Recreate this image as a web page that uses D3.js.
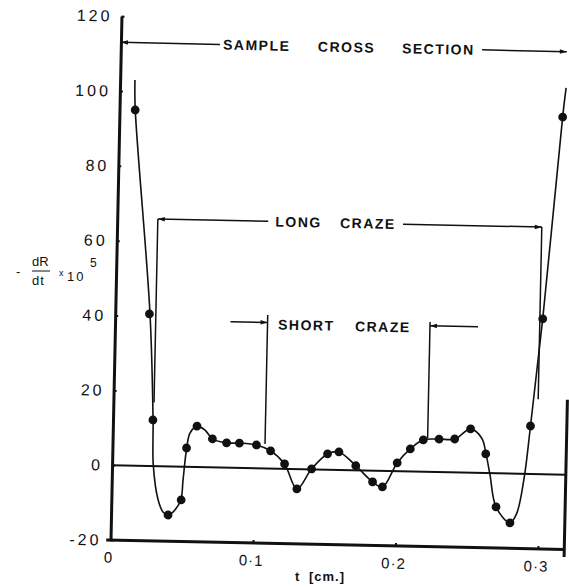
<!DOCTYPE html>
<html>
<head>
<meta charset="utf-8">
<script src="https://cdn.jsdelivr.net/npm/d3@7"></script>
<style>
  body { margin: 0; background: #fff; }
  svg { display: block; font-family: "Liberation Sans", Arial, sans-serif; }
</style>
</head>
<body>
<div id="chart"></div>
<script>
const WIDTH = 569;
const HEIGHT = 587;
const TILT = 1.2; // the scanned figure sits slightly rotated

// measured points: t (cm) and -dR/dt x 10^5
const pointT = [0.011, 0.024, 0.028, 0.040, 0.049, 0.052, 0.059, 0.070, 0.080, 0.089, 0.101, 0.111,
                0.121, 0.130, 0.140, 0.151, 0.159, 0.171, 0.183, 0.190, 0.200, 0.209, 0.218, 0.229,
                0.240, 0.251, 0.262, 0.270, 0.280, 0.293, 0.300, 0.311];
const pointV = [95, 40.6, 12.3, -13, -8.9, 5, 10.9, 7.6, 6.6, 6.6, 6.2, 4.7,
                1.3, -5.3, 0.1, 4.2, 4.8, 1.2, -3, -4.3, 2.2, 6, 8.5, 8.8,
                8.9, 11.7, 5.1, -9, -13.2, 12.8, 41.5, 95.5];

// hand drawn smooth curve through the points
const curveT = [0.0104, 0.011, 0.0244, 0.0281, 0.0289, 0.0328, 0.0364, 0.040, 0.0434, 0.0487, 0.050,
                0.0521, 0.0542, 0.059, 0.0647, 0.070, 0.080, 0.089, 0.101, 0.111, 0.121, 0.130, 0.140,
                0.151, 0.159, 0.171, 0.183, 0.190, 0.200, 0.209, 0.218, 0.229, 0.240, 0.251, 0.259,
                0.2622, 0.2653, 0.270, 0.280, 0.2846, 0.2893, 0.293, 0.300, 0.311, 0.313];
const curveV = [103, 95.3, 40.6, 12.3, 0.3, -9, -12.2, -13, -12.2, -8.9, -3.6,
                5, 9, 10.9, 9.9, 7.6, 6.6, 6.6, 6.2, 4.7, 1.3, -5.3, 0.1,
                4.2, 4.8, 1.2, -3, -4.3, 2.2, 6, 8.5, 8.8, 8.9, 11.7, 9.25,
                5.1, -0.5, -9, -13.2, -10.6, -1.1, 12.8, 41.5, 95.5, 103.3];

const yTicks = [-20, 0, 20, 40, 60, 80, 100, 120];
const xTicks = [0, 0.1, 0.2, 0.3];
const xTickLabels = ["0", "0·1", "0·2", "0·3"];

// annotation words and bracket lines (t, value)
const labelWords = ["SAMPLE", "CROSS", "SECTION", "LONG", "CRAZE", "SHORT", "CRAZE"];
const labelT = [0.0717, 0.1383, 0.1973, 0.111, 0.1564, 0.1144, 0.1684];
const labelV = [113, 113, 113, 66, 66, 38.5, 38.5];
const bracketLines = [
  [0, 113, 0.0695, 113], [0.2535, 113, 0.313, 113],
  [0.0285, 17, 0.0285, 66], [0.0285, 66, 0.106, 66],
  [0.2006, 66, 0.298, 66], [0.298, 66, 0.298, 20],
  [0.081, 39, 0.107, 39], [0.107, 41, 0.107, 6.5],
  [0.221, 40, 0.221, 9], [0.221, 39, 0.2547, 39]
];
const arrowTips = [[0, 113, -1], [0.313, 113, 1], [0.0285, 66, -1], [0.298, 66, 1], [0.107, 39, 1], [0.221, 39, -1]];

const x = d3.scaleLinear().domain([0, 0.3]).range([110.5, 538]);
const y = d3.scaleLinear().domain([-20, 120]).range([540, 16]);
const X_END = 0.3185;

const svg = d3.select("#chart")
              .append("svg")
              .attr("width", WIDTH)
              .attr("height", HEIGHT);

svg.append("rect").attr("width", WIDTH).attr("height", HEIGHT).attr("fill", "#fff");

const plot = svg.append("g")
                .attr("transform", `rotate(${TILT},${x(0)},${y(-20)})`);

// y axis
plot.append("g")
    .attr("transform", `translate(${x(0)},0)`)
    .call(d3.axisLeft(y).tickValues(yTicks).tickSize(-3).tickSizeOuter(0).tickPadding(9).tickFormat(d => d))
    .call(g => g.select(".domain").attr("stroke", "#111").attr("stroke-width", 3))
    .call(g => g.selectAll(".tick line").attr("stroke", "#111").attr("stroke-width", 2))
    .call(g => g.selectAll("text")
                .attr("fill", "#111")
                .attr("font-size", 16)
                .attr("font-family", "Liberation Sans, Arial, sans-serif")
                .style("letter-spacing", "3px"));

// x axis
plot.append("line")
    .attr("x1", x(-0.003)).attr("x2", x(X_END))
    .attr("y1", y(-20)).attr("y2", y(-20))
    .attr("stroke", "#111").attr("stroke-width", 3);

plot.append("g")
    .attr("transform", `translate(0,${y(-20)})`)
    .call(d3.axisBottom(x).tickValues(xTicks).tickSize(-3).tickPadding(12).tickFormat((d, i) => xTickLabels[i]))
    .call(g => g.select(".domain").remove())
    .call(g => g.selectAll(".tick line").attr("stroke", "#111").attr("stroke-width", 2))
    .call(g => g.selectAll("text")
                .attr("fill", "#111")
                .attr("font-size", 15)
                .attr("font-family", "Liberation Sans, Arial, sans-serif")
                .attr("dx", "-2")
                .style("letter-spacing", "1px"));

// right edge of the frame
plot.append("line")
    .attr("x1", x(X_END)).attr("x2", x(X_END))
    .attr("y1", y(-22)).attr("y2", y(20))
    .attr("stroke", "#111").attr("stroke-width", 3);

// zero line
plot.append("line")
    .attr("x1", x(0)).attr("x2", x(X_END))
    .attr("y1", y(0)).attr("y2", y(0))
    .attr("stroke", "#111").attr("stroke-width", 2);

// fitted curve
const line = d3.line()
               .x(i => x(curveT[i]))
               .y(i => y(curveV[i]))
               .curve(d3.curveCatmullRom.alpha(0.5));

plot.append("path")
    .attr("d", line(d3.range(curveT.length)))
    .attr("fill", "none")
    .attr("stroke", "#111")
    .attr("stroke-width", 1.6);

plot.selectAll(".dot")
    .data(d3.range(pointT.length))
    .join("circle")
    .attr("class", "dot")
    .attr("cx", i => x(pointT[i]))
    .attr("cy", i => y(pointV[i]))
    .attr("r", 4.4)
    .attr("fill", "#111");

// annotations
plot.selectAll(".bracket")
    .data(bracketLines)
    .join("line")
    .attr("class", "bracket")
    .attr("x1", d => x(d[0])).attr("y1", d => y(d[1]))
    .attr("x2", d => x(d[2])).attr("y2", d => y(d[3]))
    .attr("stroke", "#111")
    .attr("stroke-width", 1.5);

plot.selectAll(".tip")
    .data(arrowTips)
    .join("path")
    .attr("class", "tip")
    .attr("d", ([t, v, dir]) => {
      const px = x(t), py = y(v);
      return `M${px},${py}L${px - dir * 7},${py - 2.2}L${px - dir * 7},${py + 2.2}Z`;
    })
    .attr("fill", "#111");

plot.selectAll(".word")
    .data(labelWords)
    .join("text")
    .attr("class", "word")
    .attr("x", (d, i) => x(labelT[i]))
    .attr("y", (d, i) => y(labelV[i]))
    .attr("dy", "0.36em")
    .attr("font-size", 14)
    .attr("font-weight", "bold")
    .style("letter-spacing", "1.5px")
    .attr("fill", "#111")
    .text(d => d);

// axis titles
const ytitle = svg.append("g").attr("fill", "#111");
ytitle.append("text").attr("x", 16).attr("y", 276).attr("font-size", 13).text("-");
ytitle.append("text").attr("x", 32).attr("y", 266).attr("font-size", 13).text("dR");
ytitle.append("line").attr("x1", 32).attr("x2", 50).attr("y1", 271).attr("y2", 271)
      .attr("stroke", "#111").attr("stroke-width", 1);
ytitle.append("text").attr("x", 32).attr("y", 285).attr("font-size", 13).style("letter-spacing", "1px").text("dt");
ytitle.append("text").attr("x", 59).attr("y", 276).attr("font-size", 9).text("x");
ytitle.append("text").attr("x", 67).attr("y", 281).attr("font-size", 13).style("letter-spacing", "2px").text("10");
ytitle.append("text").attr("x", 90).attr("y", 267).attr("font-size", 12).text("5");

svg.append("text")
   .attr("x", 320)
   .attr("y", 581)
   .attr("text-anchor", "middle")
   .attr("font-size", 13)
   .attr("font-weight", "bold")
   .style("letter-spacing", "1px")
   .style("word-spacing", "4px")
   .attr("fill", "#111")
   .text("t [cm.]");
</script>
</body>
</html>
